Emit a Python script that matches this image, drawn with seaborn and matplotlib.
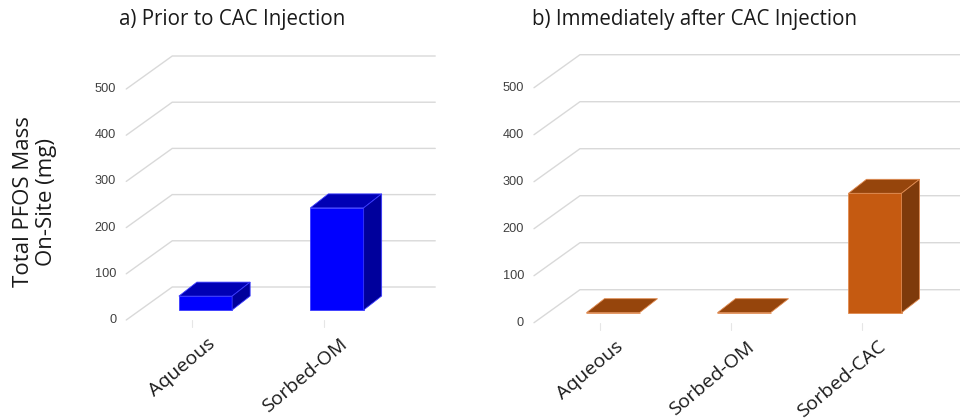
import matplotlib
matplotlib.use("Agg")
import matplotlib.pyplot as plt
from matplotlib.patches import Polygon
import seaborn as sns

# ---- data ----
cats_a = ["Aqueous", "Sorbed-OM"]
vals_a = [30, 221]
cats_b = ["Aqueous", "Sorbed-OM", "Sorbed-CAC"]
vals_b = [0, 0, 254]
y_ticks = [0, 100, 200, 300, 400, 500]
title_a = "a) Prior to CAC Injection"
title_b = "b) Immediately after CAC Injection"
y_label = "Total PFOS Mass\nOn-Site (mg)"

sns.set_theme(style="white")
plt.rcParams["font.family"] = ["Open Sans", "DejaVu Sans"]

W, H = 960, 420
fig = plt.figure(figsize=(W / 100, H / 100), dpi=100)

GRID = "#D9D9D9"
# pseudo-3D offsets in pixels (x right, y up), relative to the bar front plane
FRONT = (-13.5, -10.0)
BACK = (32.5, 23.0)
DEPTH = (18.0, 14.0)
BAR_W = 0.405


def draw_panel(box, cats, vals, face, top, side, edge, x0_px, step_px,
               zero_px, ppu, right_end):
    left_px, right_px = box
    ax = fig.add_axes([left_px / W, 0, (right_px - left_px) / W, 1])
    sns.barplot(x=cats, y=vals, color=face, saturation=1, width=BAR_W,
                edgecolor=edge, linewidth=0.6, zorder=3, ax=ax)
    ax.set_xlim((left_px - x0_px) / step_px, (right_px - x0_px) / step_px)
    ax.set_ylim((zero_px - H) / ppu, zero_px / ppu)
    ax.axis("off")

    def off(pt, o):
        return (pt[0] + o[0] / step_px, pt[1] + o[1] / ppu)

    x_left = -0.5
    x_right = right_end
    # walls: slanted side lines + horizontal back-wall gridlines
    for v in y_ticks:
        p0 = off((x_left, v), FRONT)
        p1 = off((x_left, v), BACK)
        p2 = off((x_right, v), BACK)
        ax.plot([p0[0], p1[0], p2[0]], [p0[1], p1[1], p2[1]],
                color=GRID, lw=1.0, zorder=1, solid_joinstyle="miter")
        ax.text(p0[0] - 10 / step_px, p0[1], str(v), ha="right", va="center",
                fontsize=9.2, color="#404040", family="Liberation Sans")
    # category ticks and labels on the front plane
    for i, c in enumerate(cats):
        t0 = off((i, 0), FRONT)
        t1 = off(t0, (0, -7))
        ax.plot([t0[0], t1[0]], [t0[1], t1[1]], color="#E6E6E6", lw=0.8,
                zorder=1)
        lx, ly = off((i, 0), (2, -25))
        ax.text(lx, ly, c, rotation=40, rotation_mode="anchor", ha="right",
                va="top", fontsize=14, color="#1a1a1a")
    # top and side faces of each bar
    for i, v in enumerate(vals):
        a, b = i - BAR_W / 2, i + BAR_W / 2
        top_pts = [(a, v), (b, v), off((b, v), DEPTH), off((a, v), DEPTH)]
        ax.add_patch(Polygon(top_pts, closed=True, facecolor=top,
                             edgecolor=edge, lw=0.6, zorder=4))
        if v > 0:
            side_pts = [(b, 0), (b, v), off((b, v), DEPTH), off((b, 0), DEPTH)]
            ax.add_patch(Polygon(side_pts, closed=True, facecolor=side,
                                 edgecolor=edge, lw=0.6, zorder=4))
    return ax


draw_panel((0, 480), cats_a, vals_a, "#0000FF", "#0000B4", "#00009C",
           "#3A3AFF", x0_px=205.5, step_px=131.5, zero_px=310.0, ppu=0.462,
           right_end=len(cats_a) - 0.5)
draw_panel((480, 960), cats_b, vals_b, "#C55A11", "#96450C", "#7E3A0B",
           "#E08A50", x0_px=613.0, step_px=131.0, zero_px=312.7, ppu=0.470,
           right_end=len(cats_b) - 0.5)

fig.text(232 / W, 1 - 19 / H, title_a, ha="center", va="center",
         fontsize=14.8, color="#1a1a1a")
fig.text(694 / W, 1 - 19 / H, title_b, ha="center", va="center",
         fontsize=14.8, color="#1a1a1a")
fig.text(35 / W, 1 - 202 / H, y_label, ha="center", va="center",
         rotation=90, fontsize=16, color="#1a1a1a", linespacing=1.15)

fig.savefig("out.png", dpi=100)
